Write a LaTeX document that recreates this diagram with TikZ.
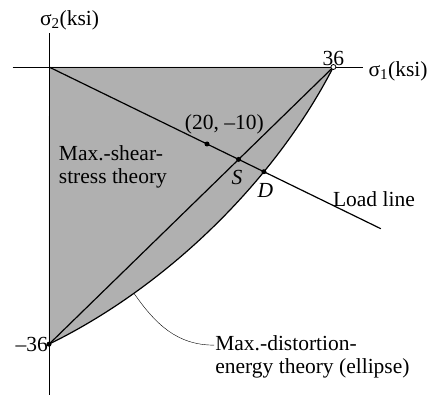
\documentclass[tikz,border=0pt]{standalone}
\usepackage{fontspec}
\setmainfont{Liberation Serif}
\usepackage{tikz}
\usetikzlibrary{arrows.meta}
\usetikzlibrary{calc}

\tikzset{
	region/.style={fill=gray!62},
	bigline/.style={line width=1.2pt},
	dot/.style={circle,fill=black,inner sep=0pt,minimum size=5pt},
	lbl/.style={font=\fontsize{21.5}{23}\selectfont,inner sep=1pt},
}

\begin{document}
\begin{tikzpicture}[x=7.9pt,y=7.7pt,>=Stealth]
		
		\useasboundingbox (-6.203,-42.857) rectangle (48.48,8.701);
		
		% Points in the (sigma_1, sigma_2) plane, ksi
		\coordinate (O) at (0,0);
		\coordinate (A) at (36,0);
		\coordinate (B) at (0,-36);
		\coordinate (E) at (42,-21);
		\coordinate (xl) at (-4.6,0);
		\coordinate (xr) at (39.7,0);
		\coordinate (yt) at (0,4.4);
		\coordinate (yb) at (0,-42.6);
		
		% Safe region
		\fill[region] (O) -- (A)
			-- plot[domain=60:120,samples=60,variable=\t]
			({36*cos(\t)+20.78*sin(\t)},{36*cos(\t)-20.78*sin(\t)}) -- cycle;
		
		% Axes
		\draw[thick] (xl) -- (xr);
		\draw[thick] (yt) -- (yb);
		
		% Ellipse (max.-distortion-energy) and hexagon side (max.-shear)
		\draw[bigline] plot[domain=60:120,samples=60,variable=\t]
			({36*cos(\t)+20.78*sin(\t)},{36*cos(\t)-20.78*sin(\t)});
		\draw[bigline] (A) -- (B);
		
		% Load line
		\draw[bigline] (O) -- (E);
		
		% Marked points
		\node[dot] (P) at (20,-10) {};
		\node[dot] (S) at (24,-12) {};
		\node[dot] (D) at (27.2,-13.6) {};
		\node[dot] (m36) at (B) {};
		\node[circle,draw,fill=white,thick,inner sep=0pt,minimum size=5pt] (p36) at (A) {};
		
		% Labels
		\node[lbl] (s2) at (2.6,6.1) {σ\textsubscript{2}(ksi)};
		\node[lbl,anchor=west] (s1) at (40.3,-0.6) {σ\textsubscript{1}(ksi)};
		\node[lbl,above=0pt] at (p36) {36};
		\node[lbl,left=0pt] at (m36) {–36};
		\node[lbl] (Plbl) at (22.2,-7.4) {(20, –10)};
		\node[lbl,font=\fontsize{21.5}{23}\selectfont\itshape] at (23.8,-14.4) {S};
		\node[lbl,font=\fontsize{21.5}{23}\selectfont\itshape] at (27.4,-16.1) {D};
		\node[lbl,anchor=west] (load) at (35.8,-17.1) {Load line};
		\node[lbl,anchor=west,align=left] (tresca) at (1.1,-13.0) {Max.-shear-\\stress theory};
		\node[lbl,anchor=north west,align=left] (vm) at (20.9,-34.7) {Max.-distortion-\\energy theory (ellipse)};
		
		% Leader to the ellipse
		\coordinate (ell) at (10.76,-29.4);
		\draw (ell) to[out=-55,in=180] ($(vm.west)+(0,1.5)$);
		
	\end{tikzpicture}
\end{document}
